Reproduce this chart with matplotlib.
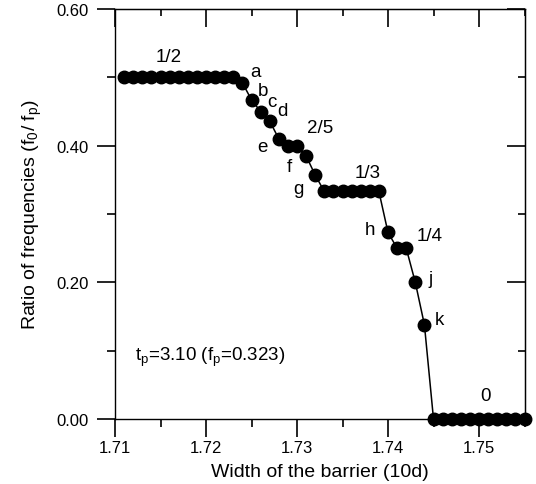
import matplotlib
matplotlib.use("Agg")
import matplotlib.pyplot as plt
from matplotlib.ticker import MultipleLocator

plt.rcParams['font.family'] = ['Liberation Sans', 'DejaVu Sans']
plt.rcParams['mathtext.fontset'] = 'custom'
plt.rcParams['mathtext.rm'] = 'Liberation Sans'
plt.rcParams['mathtext.it'] = 'Liberation Sans'

# barrier width (10d) and frequency ratio f0/fp
width = [1.711, 1.712, 1.713, 1.714, 1.715, 1.716, 1.717, 1.718, 1.719, 1.720,
         1.721, 1.722, 1.723,
         1.724, 1.725, 1.726, 1.727, 1.728, 1.729, 1.730, 1.731, 1.732,
         1.733, 1.734, 1.735, 1.736, 1.737, 1.738, 1.739,
         1.740, 1.741, 1.742, 1.743, 1.744,
         1.745, 1.746, 1.747, 1.748, 1.749, 1.750, 1.751, 1.752, 1.753, 1.754, 1.755]
ratio = [0.5] * 13 + \
        [0.492, 0.467, 0.450, 0.436, 0.410, 0.400, 0.400, 0.385, 0.357] + \
        [0.333] * 7 + \
        [0.273, 0.250, 0.250, 0.200, 0.138] + \
        [0.0] * 11

labels = ['1/2', 'a', 'b', 'c', 'd', 'e', 'f', 'g', '2/5', '1/3', 'h', '1/4', 'j', 'k', '0']
label_pos = [(1.7159, 0.530), (1.7254, 0.508), (1.7263, 0.480), (1.7273, 0.465),
             (1.7284, 0.451), (1.7262, 0.399), (1.7292, 0.370), (1.7302, 0.337),
             (1.7325, 0.427), (1.7378, 0.360), (1.7380, 0.277), (1.7446, 0.268),
             (1.7447, 0.205), (1.7456, 0.145), (1.7507, 0.035)]

fig = plt.figure(figsize=(5.36, 4.85), dpi=100)
ax = fig.add_axes([115/536, 1 - 420/485, 409.5/536, 410/485])

ax.plot(width, ratio, color='black', lw=1.1, marker='o', ms=9, mfc='black',
        mec='black', clip_on=False, zorder=3)

for lab, (x, y) in zip(labels, label_pos):
    ax.text(x, y, lab, fontsize=13.5, ha='center', va='center')

ax.text(1.7122, 0.091, r'$\mathregular{t_p}$=3.10 ($\mathregular{f_p}$=0.323)',
        fontsize=13.5, ha='left', va='center')

ax.set_xlim(1.71, 1.755)
ax.set_ylim(0, 0.6)
ax.xaxis.set_major_locator(MultipleLocator(0.01))
ax.xaxis.set_minor_locator(MultipleLocator(0.005))
ax.yaxis.set_major_locator(MultipleLocator(0.2))
ax.yaxis.set_minor_locator(MultipleLocator(0.1))
ax.xaxis.set_major_formatter(plt.FormatStrFormatter('%.2f'))
ax.yaxis.set_major_formatter(plt.FormatStrFormatter('%.2f'))

ax.tick_params(which='both', direction='out', labelsize=12, width=1.2)
ax.tick_params(which='major', length=13, pad=6)
ax.tick_params(axis='x', which='major', pad=2)
ax.tick_params(which='minor', length=6)
# inward ticks on the top and right sides
ax2 = ax.secondary_xaxis('top')
ax2.xaxis.set_major_locator(MultipleLocator(0.01))
ax2.xaxis.set_minor_locator(MultipleLocator(0.005))
ax2.tick_params(which='both', direction='in', labeltop=False, width=1.2)
ax2.tick_params(which='major', length=13)
ax2.tick_params(which='minor', length=5)
ax3 = ax.secondary_yaxis('right')
ax3.yaxis.set_major_locator(MultipleLocator(0.2))
ax3.yaxis.set_minor_locator(MultipleLocator(0.1))
ax3.tick_params(which='both', direction='in', labelright=False, width=1.2)
ax3.tick_params(which='major', length=13)
ax3.tick_params(which='minor', length=5)

for s in ax.spines.values():
    s.set_linewidth(1.0)

ax.set_xlabel('Width of the barrier (10d)', fontsize=14, labelpad=6)
ax.set_ylabel(r'Ratio of frequencies ($\mathregular{f_0/\ f_p}$)', fontsize=14, labelpad=9)

fig.savefig('out.png', dpi=100)
